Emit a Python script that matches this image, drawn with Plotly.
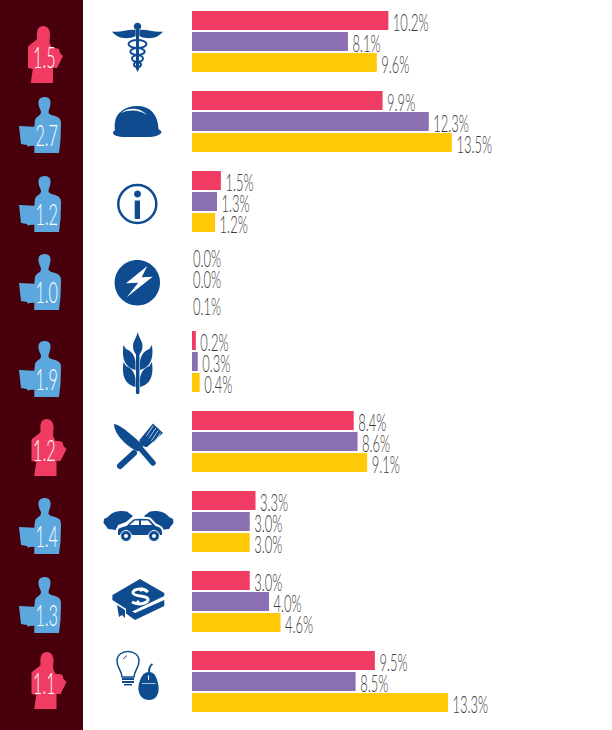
import plotly.graph_objects as go

# ---------- data ----------
series_names = ["Women", "Men", "All"]
pink_values = [10.2, 9.9, 1.5, 0.0, 0.2, 8.4, 3.3, 3.0, 9.5]
purple_values = [8.1, 12.3, 1.3, 0.0, 0.3, 8.6, 3.0, 4.0, 8.5]
yellow_values = [9.6, 13.5, 1.2, 0.1, 0.4, 9.1, 3.0, 4.6, 13.3]
ratio_labels = ["1.5", "2.7", "1.2", "1.0", "1.9", "1.2", "1.4", "1.3", "1.1"]
ratio_female = [True, False, False, False, False, True, False, False, True]

# ---------- layout constants ----------
W, H = 612, 730
PX_PER_PCT = 19.25
BAR_ZERO = 192
GROUP_PITCH = 80
FIRST_GROUP = 41.5
ROW_PITCH = 21
BAR_H = 19
HIDDEN_GROUP = 3
PINK, PURPLE, YELLOW = "#f03c62", "#8a70b0", "#ffc907"
PANEL, ICON, PERSON = "#47000c", "#0f4c8f", "#5ca8de"
LABEL = "#3c3c3c"
FONT = "Lato"
person_tops = [26, 97, 176, 254, 341, 419, 498, 577, 652]

ngroups = len(ratio_labels)
series = [pink_values, purple_values, yellow_values]
colors = [PINK, PURPLE, YELLOW]

fig = go.Figure()
for s, (vals, col, nm) in enumerate(zip(series, colors, series_names)):
    ys = [g + (s - 1) * ROW_PITCH / GROUP_PITCH for g in range(ngroups)]
    fig.add_trace(go.Bar(
        x=vals, y=ys, orientation="h", name=nm, width=BAR_H / GROUP_PITCH,
        marker=dict(color=col, line=dict(width=0),
                    opacity=[0 if g == HIDDEN_GROUP else 1 for g in range(ngroups)]),
        hoverinfo="skip"))
    # value labels
    lx, ly = [], []
    for g, v in enumerate(vals):
        if g == HIDDEN_GROUP:
            lx.append(1 / PX_PER_PCT)
            ly.append(ys[g] + [0.0, 0.5, 6.5][s] / GROUP_PITCH)
        else:
            lx.append(v + 4.5 / PX_PER_PCT)
            ly.append(ys[g] + 4.5 / GROUP_PITCH)
    fig.add_trace(go.Scatter(
        x=lx, y=ly, mode="text", text=[f"{v:.1f}%" for v in vals],
        textposition="middle right", hoverinfo="skip",
        textfont=dict(family=FONT, size=24, color=LABEL, weight=300)))

# ratio numbers inside the figures (pixel overlay axes)
nx, ny = [], []
for g in range(ngroups):
    if ratio_female[g]:
        nx.append(44.3); ny.append(person_tops[g] + 34)
    else:
        nx.append(46.7); ny.append(person_tops[g] + 41.5)
fig.add_trace(go.Scatter(
    x=nx, y=ny, mode="text", text=ratio_labels, textposition="middle center",
    xaxis="x2", yaxis="y2", hoverinfo="skip",
    textfont=dict(family=FONT, size=30, color="white", weight=300)))

# ---------- decoration helpers (pixel coordinates) ----------
shapes = []

def add(path, fill=ICON, line=None, lw=0):
    shapes.append(dict(type="path", path=path, xref="x2", yref="y2", layer="below",
                       fillcolor=fill if fill else "rgba(0,0,0,0)",
                       line=dict(color=line if line else "rgba(0,0,0,0)", width=lw)))

def ell(cx, cy, rx, ry=None):
    ry = rx if ry is None else ry
    k = 0.5523
    return (f"M {cx-rx},{cy} C {cx-rx},{cy-k*ry} {cx-k*rx},{cy-ry} {cx},{cy-ry} "
            f"C {cx+k*rx},{cy-ry} {cx+rx},{cy-k*ry} {cx+rx},{cy} "
            f"C {cx+rx},{cy+k*ry} {cx+k*rx},{cy+ry} {cx},{cy+ry} "
            f"C {cx-k*rx},{cy+ry} {cx-rx},{cy+k*ry} {cx-rx},{cy} Z")

def capsule(x1, y1, x2, y2, w):
    dx, dy = x2 - x1, y2 - y1
    n = (dx * dx + dy * dy) ** 0.5
    ux, uy = dx / n * w / 2, dy / n * w / 2
    px, py = -uy, ux
    return (f"M {x1+px},{y1+py} L {x2+px},{y2+py} Q {x2+ux+px},{y2+uy+py} {x2+ux},{y2+uy} "
            f"Q {x2+ux-px},{y2+uy-py} {x2-px},{y2-py} L {x1-px},{y1-py} "
            f"Q {x1-ux-px},{y1-uy-py} {x1-ux},{y1-uy} Q {x1-ux+px},{y1-uy+py} {x1+px},{y1+py} Z")

def man(top):
    o = top - 97
    y = lambda v: v + o
    add(f"M 44.5,{y(97)} C 49.5,{y(97)} 51,{y(100)} 50.5,{y(104)} C 50,{y(108)} 48.5,{y(110)} 48.5,{y(112)} "
        f"C 48.5,{y(115)} 53,{y(115)} 57.5,{y(117)} C 60,{y(118)} 61,{y(120)} 61,{y(124)} L 60.5,{y(140)} L 59,{y(153)} "
        f"L 34.3,{y(153)} L 34.3,{y(145.7)} L 29,{y(146)} L 28,{y(147)} L 27,{y(145)} L 21,{y(144)} L 19,{y(126)} "
        f"L 34.3,{y(126.7)} L 35,{y(120)} C 36,{y(116)} 41,{y(116)} 41,{y(112)} C 41,{y(110)} 39,{y(108)} 38.5,{y(104)} "
        f"C 38,{y(100)} 40,{y(97)} 44.5,{y(97)} Z", fill=PERSON)

def woman(top, dx):
    o = top - 26
    y = lambda v: v + o
    x = lambda v: v + dx
    add(f"M {x(43.5)},{y(26)} C {x(47)},{y(26)} {x(50)},{y(29)} {x(50)},{y(34)} C {x(50)},{y(39)} {x(49)},{y(42)} {x(50)},{y(44)} "
        f"L {x(52)},{y(48)} L {x(55)},{y(48)} L {x(59)},{y(49)} L {x(60)},{y(53)} L {x(63)},{y(56)} L {x(61.5)},{y(59)} L {x(60)},{y(62)} "
        f"L {x(58)},{y(66)} L {x(57)},{y(68)} L {x(53)},{y(68)} L {x(53)},{y(83)} L {x(30.7)},{y(83)} L {x(32.8)},{y(69)} L {x(28)},{y(68)} "
        f"L {x(28)},{y(47)} C {x(29)},{y(45)} {x(33)},{y(43)} {x(37)},{y(39)} C {x(37)},{y(36)} {x(36.5)},{y(33)} {x(37.5)},{y(30)} "
        f"C {x(38.5)},{y(27)} {x(41)},{y(26)} {x(43.5)},{y(26)} Z", fill=PINK)

# left panel
shapes.append(dict(type="rect", xref="x2", yref="y2", x0=0, x1=83, y0=0, y1=H,
                   fillcolor=PANEL, line=dict(width=0), layer="below"))
for g in range(ngroups):
    if ratio_female[g]:
        woman(person_tops[g], 0 if g == 0 else 3.5)
    else:
        man(person_tops[g])

# caduceus
add(ell(137.5, 26.5, 3.7))
add("M 112,31.5 C 120,33 128,29 135.7,30 L 135.7,36 C 130,39 122,38.5 118,36.5 C 115,35 113,33 112,31.5 Z")
add("M 163,31.5 C 155,33 147,29 139.3,30 L 139.3,36 C 145,39 153,38.5 157,36.5 C 160,35 162,33 163,31.5 Z")
add("M 136,28 L 139,28 L 139,69 L 137.5,72 L 136,69 Z")
for cy, rx, ry in [(44, 9, 4), (51.5, 7.2, 3.5), (58.5, 5.5, 3.2), (64.5, 3.5, 2.6)]:
    add(ell(137.5, cy, rx, ry), fill=None, line=ICON, lw=2)

# hard hat
add("M 115,130 C 114.5,127 114.5,125 115,122 C 116,113 125,106 137,106 C 150,106 158,114 158.5,129 "
    "L 161,131 C 163,133 158,136.5 150,137 L 125,137 C 118,137 112,135 113,132 Z")
add("M 121,113 C 128,107 140,107 147,115 C 140,110 130,109 121,113 Z", fill="white")

# info
add(ell(137.3, 204, 19), fill=None, line=ICON, lw=2.5)
add(ell(137.5, 194, 3.5))
add("M 134.7,200.5 L 140,200.5 L 140,219 L 134.7,219 Z")

# lightning
add(ell(137.3, 282.7, 22.7))
add("M 147.3,266 L 126,283.3 L 138.3,282.7 L 126.7,297.3 L 152.7,276.7 L 141.7,277.3 Z", fill="white")

# wheat
add(capsule(137.7, 350, 137.7, 392.5, 3.5))
add("M 137.7,332 C 139,338 142.5,341 142.5,346 C 142.5,351 140,354 137.7,356 C 135.5,354 133,351 133,346 C 133,341 136.5,338 137.7,332 Z")
for top in (345, 362):
    add(f"M 123.5,{top} L 126,{top+4} C 132,{top+6} 136,{top+12} 135.5,{top+20} L 135.5,{top+25} "
        f"C 127,{top+23} 121,{top+16} 123.5,{top} Z")
    add(f"M 151.9,{top} L 149.4,{top+4} C 143.4,{top+6} 139.4,{top+12} 140,{top+20} L 140,{top+25} "
        f"C 148.4,{top+23} 154.4,{top+16} 151.9,{top} Z")

# knife and fork
add("M 114,424 C 120,424 137,439 143,446 L 138,451.5 C 127,447 114,434 114,424 Z")
add(capsule(141, 449, 153, 463, 5.5))
add(capsule(120, 466, 134, 453, 6))
add("M 139.5,440 L 153,423.5 L 163,433 L 147,447 C 143,447 139,445 139.5,440 Z")
for t in range(4):
    add(f"M {146.5+t*2.4},{436+t*2.4} L {153.5+t*2.4},{425.5+t*2.4}", fill=None, line="#a9c3e0", lw=1)

# cars
add("M 103.5,523 L 104,519 L 108,517 C 111,513 116,511 122,511 L 127,511.5 L 133,516 L 126,522 L 118,525 L 116,530 L 108,529 L 106,526 Z")
add("M 173.5,523 L 173,519 L 169,517 C 166,513 161,511 155,511 L 150,511.5 L 144,516 L 151,522 L 159,525 L 161,530 L 169,529 L 171,526 Z")
add("M 117,536 L 117,530 C 117,527 122,526 126,525 L 133,518.5 C 135,517.5 148,517.5 150,518.5 L 156,525 "
    "C 160,526 163,528 163,532 L 163,536 Z", line="white", lw=2)
add("M 129.5,525 L 135,520.5 L 139,520.5 L 139,525 Z", fill="white")
add("M 141,520.5 L 148,520.5 L 152,525 L 141,525 Z", fill="white")
for cx in (126, 154):
    add(ell(cx, 536, 5.5), line="white", lw=1)
    add(ell(cx, 536, 2), fill="white")

# book
add("M 140,579 L 164.3,593 L 164.3,596 L 131,612 L 117,603 L 112.3,600 L 112.5,595 Z")
add("M 164.3,600 L 164.3,606 L 135,620 L 126,613.5 L 126,608 L 135,613 Z")
add("M 117,605 L 125,610 L 125,618 L 122,615 L 119,617 Z")
add("M 148,592 C 143,587 132,589 133,593 C 134,597 147,595 148,599 C 149,603 139,606 132,602",
    fill=None, line="white", lw=3)
add("M 143,588 L 140,591 M 136,604 L 139,601", fill=None, line="white", lw=3)

# bulb and mouse
add("M 122,677 C 122,671 117,668 117,661 C 117,655 122,651.5 128,651.5 C 134,651.5 139,655 139,661 "
    "C 139,668 134,671 134,677 Z", fill=None, line=ICON, lw=1.5)
add("M 123,659 L 127,655.5", fill=None, line=ICON, lw=1)
for yy, x0, x1, h in [(678, 122, 134, 2), (681, 122, 134, 2), (684, 124, 132, 1.5)]:
    add(f"M {x0},{yy} L {x1},{yy} L {x1},{yy+h} L {x0},{yy+h} Z")
add("M 149,672 C 155,672 157,678 158.5,686 C 159.5,694 156,700 149,700 C 142,700 137.5,694 138.5,686 C 140,678 143,672 149,672 Z")
add("M 149,672 C 149,668 150,665.5 152.5,664", fill=None, line=ICON, lw=2)
add("M 142,683.5 L 155.5,683.5", fill=None, line="#a9c3e0", lw=1)
add("M 148.5,675.5 L 148.5,680", fill=None, line="white", lw=1)

hidden = dict(visible=False, showgrid=False, zeroline=False, fixedrange=True)
fig.update_layout(
    width=W, height=H, margin=dict(l=0, r=0, t=0, b=0), autosize=False,
    paper_bgcolor="white", plot_bgcolor="white", showlegend=False,
    barmode="overlay", shapes=shapes,
    xaxis=dict(range=[-BAR_ZERO / PX_PER_PCT, (W - BAR_ZERO) / PX_PER_PCT], domain=[0, 1], **hidden),
    yaxis=dict(range=[(H - FIRST_GROUP) / GROUP_PITCH, -FIRST_GROUP / GROUP_PITCH], domain=[0, 1], **hidden),
    xaxis2=dict(range=[0, W], overlaying="x", domain=[0, 1], **hidden),
    yaxis2=dict(range=[H, 0], overlaying="y", domain=[0, 1], **hidden),
)

# The reference type is tall and very condensed; narrow the glyphs of the chart's text.
post = """
document.body.style.margin='0';
var gd=document.getElementById('{plot_id}');
gd.querySelectorAll('.textpoint text').forEach(function(t){
  t.setAttribute('textLength', t.getComputedTextLength()*0.54);
  t.setAttribute('lengthAdjust','spacingAndGlyphs');
});
"""
fig.write_html("out.html", post_script=post, config=dict(displayModeBar=False, staticPlot=True))
